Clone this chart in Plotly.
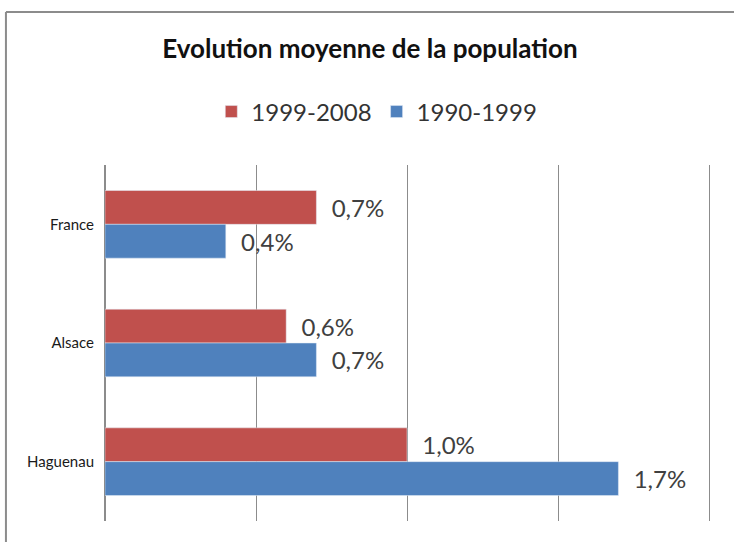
import plotly.graph_objs as go

# data (% evolution per year)
regions = ["France", "Alsace", "Haguenau"]
evol_1999_2008 = [0.7, 0.6, 1.0]
evol_1990_1999 = [0.4, 0.7, 1.7]

RED = "#C0504D"
BLUE = "#4F81BD"
GRID = "#8c8c8c"
FONT = "Lato, 'Open Sans', sans-serif"

fig = go.Figure()
fig.add_trace(go.Bar(y=regions, x=evol_1999_2008, name="1999-2008", orientation="h",
                     marker_color=RED, texttemplate="\u00a0\u00a0%{x:.1f}%",
                     textposition="outside", cliponaxis=False,
                     textfont=dict(size=24, color="#404040", family=FONT)))
fig.add_trace(go.Bar(y=regions, x=evol_1990_1999, name="1990-1999", orientation="h",
                     marker_color=BLUE, texttemplate="\u00a0\u00a0%{x:.1f}%",
                     textposition="outside", cliponaxis=False,
                     textfont=dict(size=24, color="#404040", family=FONT)))

fig.update_layout(
    width=734, height=542,
    margin=dict(l=105, r=25, t=165, b=21),
    paper_bgcolor="white", plot_bgcolor="white",
    separators=", ",
    barmode="group", bargap=0.43, bargroupgap=0,
    font=dict(family=FONT, color="#1a1a1a"),
    title=dict(text="<b>Evolution moyenne de la population</b>", x=0.504, xref="container",
               xanchor="center", y=0.91, yanchor="middle",
               font=dict(size=26, color="#111111", family=FONT)),
    legend=dict(orientation="h", x=0.45, xanchor="center", y=1.149, yanchor="middle",
                font=dict(size=24, color="#333333", family=FONT), traceorder="normal",
                itemwidth=30),
    xaxis=dict(range=[0, 2], dtick=0.5, showgrid=True, gridcolor=GRID, gridwidth=1,
               showticklabels=False, zeroline=True, zerolinecolor=GRID, zerolinewidth=1,
               showline=False, ticks=""),
    yaxis=dict(autorange="reversed", showgrid=False, showline=True, mirror=True,
               linecolor=GRID, linewidth=1, ticks="", automargin=False,
               tickfont=dict(size=15, color="#1a1a1a", family=FONT), ticklabelstandoff=7),
    showlegend=True,
)

# outer chart frame (left and top edges visible in the original)
fig.add_shape(type="line", xref="paper", yref="paper", x0=-0.164, x1=1.1, y0=1.43, y1=1.43,
              line=dict(color=GRID, width=2))
fig.add_shape(type="line", xref="paper", yref="paper", x0=-0.164, x1=-0.164, y0=1.43, y1=-0.1,
              line=dict(color=GRID, width=2))

# drop the default body margin so the figure sits at the window's top-left corner
fig.write_html("out.html", config={"displayModeBar": False},
               post_script="document.body.style.margin='0';")
